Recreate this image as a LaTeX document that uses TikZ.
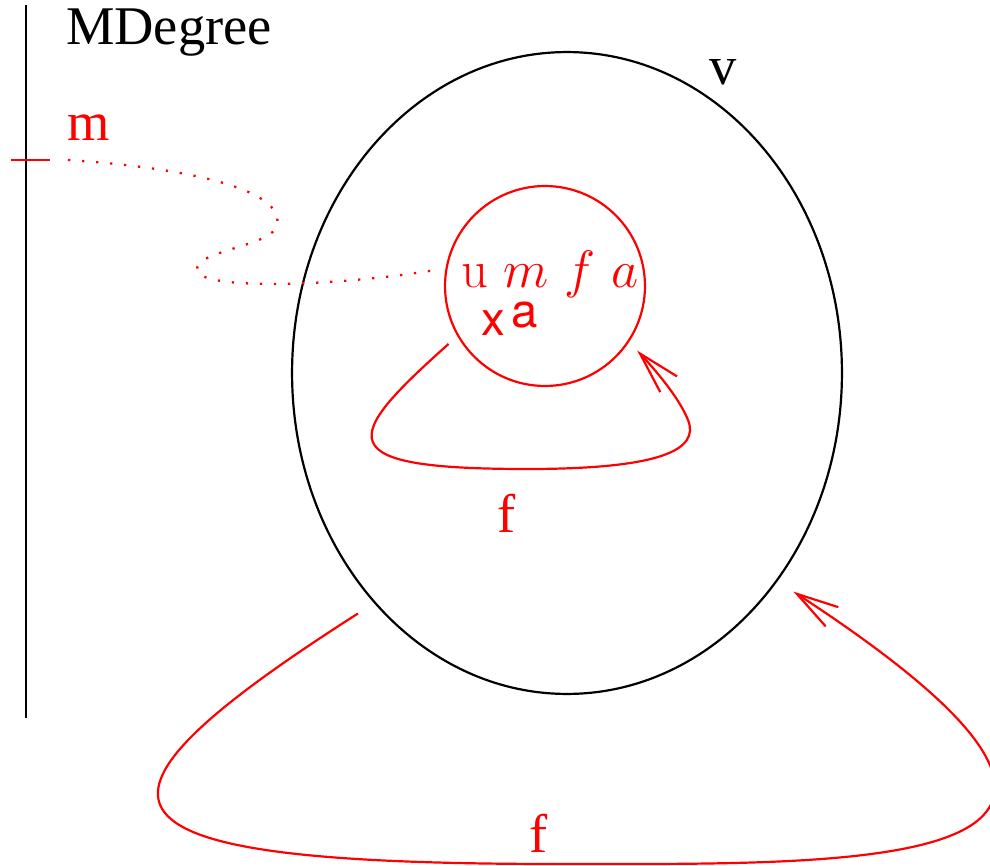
\documentclass[tikz,border=0pt]{standalone}
\usepackage{fix-cm}
\usepackage{fontspec}
\newfontfamily\heros{TeX Gyre Heros}
\newfontfamily\timesfont{Liberation Serif}
\usetikzlibrary{arrows.meta}
\usetikzlibrary{shapes.geometric}
\tikzset{
    lbl/.style={font=\timesfont\fontsize{31}{36}\selectfont, inner sep=0pt},
    mathlbl/.style={font=\fontsize{30}{36}\selectfont, inner sep=0pt, red},
    sflbl/.style={font=\heros\fontsize{27}{32}\selectfont, inner sep=0pt, red},
    loopline/.style={red, line width=1.25pt, -{Straight Barb[length=0.84cm, width=0.46cm]}},
}

\begin{document}
\begin{tikzpicture}[x=0.02cm, y=-0.02cm, line width=1.25pt]
    \useasboundingbox (0,0) rectangle (990,865);

    % Degree axis
    \coordinate (axtop) at (26,5);
    \coordinate (axbot) at (26,718);
    \draw (axtop) -- (axbot);
    \node[lbl, anchor=base west] (title) at (65,45) {MDegree};
    \coordinate (tickl) at (11,160);
    \coordinate (tickr) at (50,160);
    \draw[red] (tickl) -- (tickr);
    \node[lbl, red, anchor=base west] (mlbl) at (66,140) {m};
    \coordinate (mdot) at (68,160);

    % Outer set and inner element
    \node[ellipse, draw, minimum width=11cm, minimum height=12.84cm, inner sep=0pt, outer sep=0.4cm] (v) at (567,373) {};
    \node[lbl, anchor=base] (vlbl) at (723,85) {v};
    \node[circle, draw=red, minimum size=4cm, inner sep=0pt, outer sep=0.25cm] (u) at (545,286) {};
    \node[mathlbl, anchor=base west] (ulbl) at (460,287) {u $m$ $f$ $a$};
    \node[sflbl, anchor=base] (xlbl) at (493,335) {x};
    \node[sflbl, anchor=base] (albl) at (525,327) {a};

    % Dotted link from degree tick
    \draw[red, line width=1.3pt, dash pattern=on 1.3pt off 6.7pt] (mdot)
        .. controls (190,168) and (285,190) .. (277,225)
        .. controls (272,247) and (195,250) .. (197,270)
        .. controls (199,290) and (330,287) .. (u.172);

    % Loops
    \draw[loopline] (u.211)
        .. controls (342,439) and (327,469) .. (527,469)
        .. controls (660,469) and (700,450) .. (688,420)
        .. controls (680,400) and (660,375) .. (u.325);
    \node[lbl, red, anchor=base] (f1) at (507,532) {f};

    \draw[loopline] (v.229)
        .. controls (52,809) and (80,864) .. (560,864)
        .. controls (870,864) and (1225,873) .. (v.316);
    \node[lbl, red, anchor=base] (f2) at (539,852) {f};
\end{tikzpicture}
\end{document}
